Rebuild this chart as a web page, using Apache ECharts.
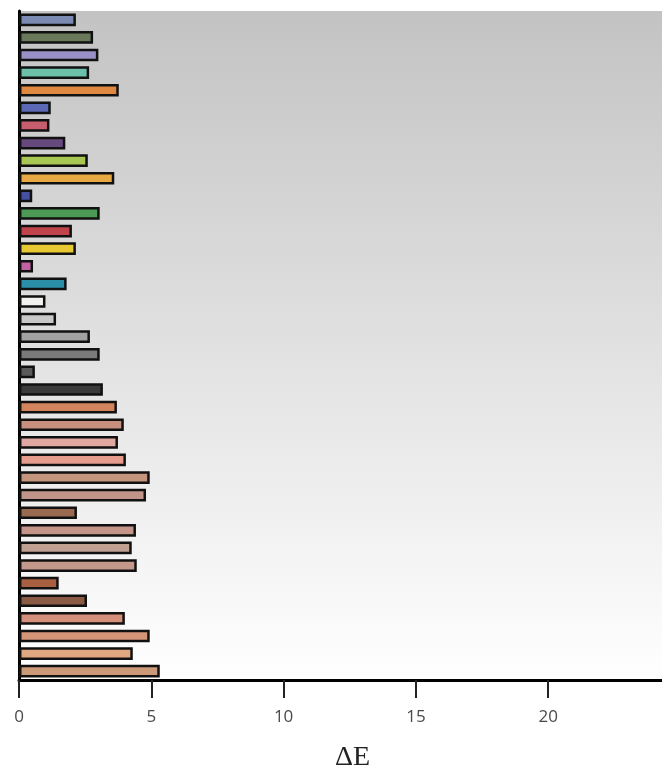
<!DOCTYPE html>
<html>
<head>
<meta charset="utf-8">
<style>
  html, body { margin: 0; padding: 0; background: #ffffff; }
  #chart { width: 662px; height: 776px; }
</style>
<script src="https://cdn.jsdelivr.net/npm/echarts@6/dist/echarts.min.js"></script>
</head>
<body>
<div id="chart"></div>
<script>
// Colour patches, listed top to bottom
const patchNames = [
  'Blue sky', 'Foliage', 'Blue flower', 'Bluish green', 'Orange', 'Purplish blue',
  'Moderate red', 'Purple', 'Yellow green', 'Orange yellow', 'Blue', 'Green',
  'Red', 'Yellow', 'Magenta', 'Cyan', 'White', 'Neutral 8', 'Neutral 6.5',
  'Neutral 5', 'Neutral 3.5', 'Black',
  'Skin 1', 'Skin 2', 'Skin 3', 'Skin 4', 'Skin 5', 'Skin 6', 'Skin 7', 'Skin 8',
  'Skin 9', 'Skin 10', 'Skin 11', 'Skin 12', 'Skin 13', 'Skin 14', 'Skin 15', 'Skin 16'
];

// Colour difference for each patch
const deltaE = [
  2.15, 2.8, 3.0, 2.65, 3.77, 1.2, 1.15, 1.75, 2.6, 3.6, 0.5,
  3.05, 2.0, 2.15, 0.53, 1.8, 1.0, 1.4, 2.68, 3.05, 0.6, 3.17,
  3.7, 3.96, 3.74, 4.04, 4.94, 4.8, 2.19, 4.42, 4.26, 4.45,
  1.5, 2.57, 4.0, 4.94, 4.3, 5.32
];

// Fill colour of each bar
const patchColors = [
  '#7a8ab2', '#69795a', '#9890c6', '#6cc0aa', '#de8842', '#5a68b6',
  '#c65e6e', '#664a7e', '#a8c652', '#e8a842', '#4450a2', '#4c9a54',
  '#c0424a', '#e8c832', '#c262a2', '#2a8ea8', '#f2f2f0', '#c8c8c8',
  '#a2a2a2', '#7a7a7a', '#5a5a5a', '#3a3a3a',
  '#d4845c', '#c99080', '#e0a8a0', '#e69c8c', '#c4957c', '#c09488',
  '#9a6a50', '#c49488', '#c0a090', '#c4988a', '#a86040', '#8a5a44',
  '#d4907a', '#d49478', '#e0a880', '#cc9a78'
];

const xTicks = { min: 0, max: 24.3, interval: 5 };

const chart = echarts.init(document.getElementById('chart'), null, { renderer: 'canvas' });

chart.setOption({
  animation: false,
  backgroundColor: '#ffffff',
  grid: {
    left: 19, right: 0, top: 11, bottom: 96,
    containLabel: false,
    outerBoundsMode: 'none',
    show: true,
    borderWidth: 0,
    backgroundColor: new echarts.graphic.LinearGradient(0, 0, 0, 1, [
      { offset: 0, color: '#c3c3c3' },
      { offset: 1, color: '#ffffff' }
    ])
  },
  xAxis: {
    type: 'value',
    min: xTicks.min,
    max: xTicks.max,
    interval: xTicks.interval,
    name: 'ΔE',
    nameLocation: 'middle',
    nameGap: 64,
    nameTextStyle: {
      fontFamily: 'Liberation Serif',
      fontSize: 28,
      color: '#222222',
      padding: [0, 0, 0, 24]
    },
    axisLine: { show: true, onZero: false, lineStyle: { color: '#000000', width: 3 } },
    axisTick: { show: true, inside: false, length: 18, lineStyle: { color: '#222222', width: 2 } },
    axisLabel: {
      margin: 29,
      fontFamily: 'Open Sans',
      fontSize: 17,
      color: '#4a4a4a',
      showMaxLabel: false
    },
    splitLine: { show: false }
  },
  yAxis: {
    type: 'category',
    data: patchNames,
    inverse: true,
    axisLine: { show: true, lineStyle: { color: '#000000', width: 3 } },
    axisTick: { show: false },
    axisLabel: { show: false },
    splitLine: { show: false }
  },
  series: [{
    type: 'bar',
    data: deltaE.map((v, i) => ({
      value: v,
      itemStyle: { color: patchColors[i] }
    })),
    barWidth: '72%',
    itemStyle: { borderColor: '#111111', borderWidth: 2.5 }
  }]
});
</script>
</body>
</html>
